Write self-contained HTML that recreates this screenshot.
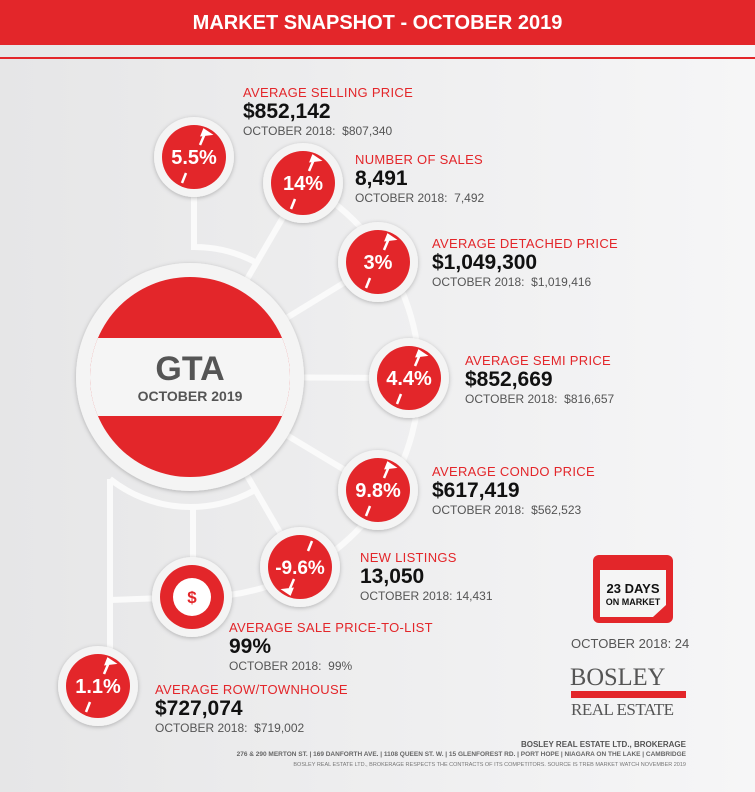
<!DOCTYPE html>
<html><head><meta charset="utf-8"><style>
body{margin:0;width:755px;height:792px;overflow:hidden;font-family:"Liberation Sans",Arial,sans-serif;}
.bg{position:absolute;left:0;top:0;width:755px;height:792px;background:linear-gradient(90deg,#e6e6e7,#f6f6f7);}
.t{position:absolute;white-space:nowrap;}
.r{color:#e3262a;font-size:13px;letter-spacing:0.3px;}
.b{color:#111;font-weight:bold;font-size:21px;}
.g{color:#555;font-size:12px;}
</style></head><body>
<div class="bg"></div>
<div style="position:absolute;left:0;top:0;width:755px;height:45px;background:#e3262a;"></div>
<div class="t" style="left:0;width:755px;text-align:center;top:12px;color:#fff;font-weight:bold;font-size:20px;">MARKET SNAPSHOT - OCTOBER 2019</div>
<div style="position:absolute;left:0;top:57px;width:755px;height:2px;background:#e3262a;"></div>
<svg width="755" height="792" style="position:absolute;left:0;top:0">
<defs><filter id="s" x="-20%" y="-20%" width="140%" height="140%"><feDropShadow dx="0" dy="1" stdDeviation="2" flood-opacity="0.25"/></filter></defs>
<g stroke="#fafafa" stroke-width="6" fill="none">
<path d="M303 183 A220 220 0 0 1 192 597 L110 600"/>
<path d="M194 157 L194 247 A130 130 0 0 1 255 262"/>
<path d="M110 479 A130 130 0 0 0 255 490"/>
<line x1="193" y1="507" x2="193" y2="597"/>
<line x1="190" y1="377" x2="303" y2="183"/>
<line x1="190" y1="377" x2="378" y2="262"/>
<line x1="190" y1="377" x2="409" y2="378"/>
<line x1="190" y1="377" x2="378" y2="490"/>
<line x1="190" y1="377" x2="300" y2="567"/>
<path d="M110 479 L110 686"/>
</g>
<circle cx="190" cy="377" r="114" fill="#f4f4f4" filter="url(#s)"/>
<clipPath id="c"><circle cx="190" cy="377" r="100"/></clipPath>
<circle cx="190" cy="377" r="100" fill="#e3262a"/>
<rect x="80" y="338" width="220" height="78" fill="#f5f5f5" clip-path="url(#c)"/>
<text x="190" y="380" text-anchor="middle" font-family="Liberation Sans" font-weight="bold" font-size="34" fill="#555">GTA</text>
<text x="190" y="401" text-anchor="middle" font-family="Liberation Sans" font-weight="bold" font-size="14" fill="#555">OCTOBER 2019</text>
<g font-family="Liberation Sans" font-size="20" font-weight="bold" fill="#fff" text-anchor="middle">
<g transform="translate(194,157)"><circle r="40" fill="#f4f4f4" filter="url(#s)"/><circle r="32" fill="#e3262a"/><text y="7">5.5%</text><path d="M-12 26 L-8 16 M12 -26 L6 -12 M10 -27 l6 4 -8 1z" stroke="#fff" stroke-width="2.5" fill="#fff"/></g>
<g transform="translate(303,183)"><circle r="40" fill="#f4f4f4" filter="url(#s)"/><circle r="32" fill="#e3262a"/><text y="7">14%</text><path d="M-12 26 L-8 16 M12 -26 L6 -12 M10 -27 l6 4 -8 1z" stroke="#fff" stroke-width="2.5" fill="#fff"/></g>
<g transform="translate(378,262)"><circle r="40" fill="#f4f4f4" filter="url(#s)"/><circle r="32" fill="#e3262a"/><text y="7">3%</text><path d="M-12 26 L-8 16 M12 -26 L6 -12 M10 -27 l6 4 -8 1z" stroke="#fff" stroke-width="2.5" fill="#fff"/></g>
<g transform="translate(409,378)"><circle r="40" fill="#f4f4f4" filter="url(#s)"/><circle r="32" fill="#e3262a"/><text y="7">4.4%</text><path d="M-12 26 L-8 16 M12 -26 L6 -12 M10 -27 l6 4 -8 1z" stroke="#fff" stroke-width="2.5" fill="#fff"/></g>
<g transform="translate(378,490)"><circle r="40" fill="#f4f4f4" filter="url(#s)"/><circle r="32" fill="#e3262a"/><text y="7">9.8%</text><path d="M-12 26 L-8 16 M12 -26 L6 -12 M10 -27 l6 4 -8 1z" stroke="#fff" stroke-width="2.5" fill="#fff"/></g>
<g transform="translate(300,567)"><circle r="40" fill="#f4f4f4" filter="url(#s)"/><circle r="32" fill="#e3262a"/><text y="7" font-size="19">-9.6%</text><path d="M12 -26 L8 -16 M-6 12 L-12 26 M-10 27 l-6 -4 8 -1z" stroke="#fff" stroke-width="2.5" fill="#fff"/></g>
<g transform="translate(192,597)"><circle r="40" fill="#f4f4f4" filter="url(#s)"/><circle r="32" fill="#e3262a"/><circle r="19" fill="#fff"/><text y="6" fill="#e3262a" font-size="17">$</text></g>
<g transform="translate(98,686)"><circle r="40" fill="#f4f4f4" filter="url(#s)"/><circle r="32" fill="#e3262a"/><text y="7">1.1%</text><path d="M-12 26 L-8 16 M12 -26 L6 -12 M10 -27 l6 4 -8 1z" stroke="#fff" stroke-width="2.5" fill="#fff"/></g>
</g>
<g transform="translate(593,555)">
<rect x="0" y="0" width="80" height="68" rx="6" fill="#e3262a"/>
<path d="M7 15 H73 V50 L60 62 H7z" fill="#f5f5f5"/>
<text x="40" y="38" text-anchor="middle" font-family="Liberation Sans" font-weight="bold" font-size="13" fill="#111">23 DAYS</text>
<text x="40" y="50" text-anchor="middle" font-family="Liberation Sans" font-weight="bold" font-size="9" fill="#111">ON MARKET</text>
</g>
</svg>
<div class="t r" style="left:243px;top:85px">AVERAGE SELLING PRICE</div>
<div class="t b" style="left:243px;top:100px">$852,142</div>
<div class="t g" style="left:243px;top:124px">OCTOBER 2018:&nbsp; $807,340</div>
<div class="t r" style="left:355px;top:152px">NUMBER OF SALES</div>
<div class="t b" style="left:355px;top:167px">8,491</div>
<div class="t g" style="left:355px;top:191px">OCTOBER 2018:&nbsp; 7,492</div>
<div class="t r" style="left:432px;top:236px">AVERAGE DETACHED PRICE</div>
<div class="t b" style="left:432px;top:251px">$1,049,300</div>
<div class="t g" style="left:432px;top:275px">OCTOBER 2018:&nbsp; $1,019,416</div>
<div class="t r" style="left:465px;top:353px">AVERAGE SEMI PRICE</div>
<div class="t b" style="left:465px;top:368px">$852,669</div>
<div class="t g" style="left:465px;top:392px">OCTOBER 2018:&nbsp; $816,657</div>
<div class="t r" style="left:432px;top:464px">AVERAGE CONDO PRICE</div>
<div class="t b" style="left:432px;top:479px">$617,419</div>
<div class="t g" style="left:432px;top:503px">OCTOBER 2018:&nbsp; $562,523</div>
<div class="t r" style="left:360px;top:550px">NEW LISTINGS</div>
<div class="t b" style="left:360px;top:565px">13,050</div>
<div class="t g" style="left:360px;top:589px">OCTOBER 2018: 14,431</div>
<div class="t r" style="left:229px;top:620px">AVERAGE SALE PRICE-TO-LIST</div>
<div class="t b" style="left:229px;top:635px">99%</div>
<div class="t g" style="left:229px;top:659px">OCTOBER 2018:&nbsp; 99%</div>
<div class="t r" style="left:155px;top:682px">AVERAGE ROW/TOWNHOUSE</div>
<div class="t b" style="left:155px;top:697px">$727,074</div>
<div class="t g" style="left:155px;top:721px">OCTOBER 2018:&nbsp; $719,002</div>
<div class="t g" style="left:571px;top:636px;font-size:13px">OCTOBER 2018: 24</div>
<div class="t" style="left:570px;top:664px;font-family:'Liberation Serif',serif;font-size:25px;color:#555;transform:scaleX(0.98);transform-origin:left">BOSLEY</div>
<div style="position:absolute;left:571px;top:691px;width:115px;height:7px;background:#e3262a"></div>
<div class="t" style="left:571px;top:700px;font-family:'Liberation Serif',serif;font-size:17px;color:#555;letter-spacing:-0.5px">REAL ESTATE</div>
<div class="t" style="right:69px;top:740px;font-size:8px;font-weight:bold;color:#555">BOSLEY REAL ESTATE LTD., BROKERAGE</div>
<div class="t" style="right:69px;top:751px;font-size:6.5px;font-weight:bold;color:#666">276 &amp; 290 MERTON ST. | 169 DANFORTH AVE. | 1108 QUEEN ST. W. | 15 GLENFOREST RD. | PORT HOPE | NIAGARA ON THE LAKE | CAMBRIDGE</div>
<div class="t" style="right:69px;top:762px;font-size:5.5px;color:#777">BOSLEY REAL ESTATE LTD., BROKERAGE RESPECTS THE CONTRACTS OF ITS COMPETITORS. SOURCE IS TREB MARKET WATCH NOVEMBER 2019</div>
</body></html>
